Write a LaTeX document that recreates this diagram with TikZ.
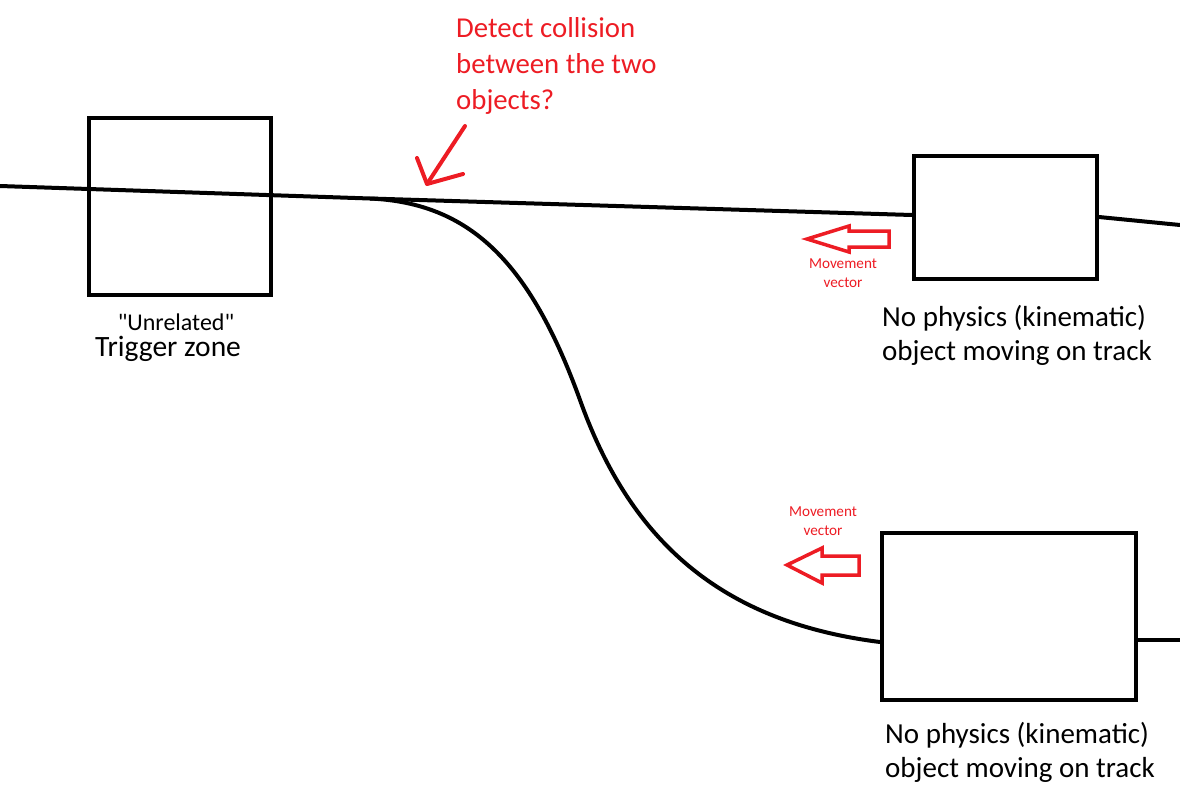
\documentclass[tikz,border=0pt]{standalone}
\usepackage{fontspec}
\setmainfont{Carlito}
\definecolor{pred}{RGB}{237,28,36}
\begin{document}
\begin{tikzpicture}[x=1pt,y=-1pt,
  box/.style={draw=black,line width=4pt,inner sep=0pt,minimum width=#1},
  track/.style={draw=black,line width=4pt},
  redline/.style={draw=pred,line width=4pt,line cap=round,line join=round},
  blockarrow/.style={draw=pred,line width=3.5pt,line join=miter},
  lbl/.style={inner sep=0pt,anchor=west,align=left,font=\fontsize{29}{34}\selectfont},
  small/.style={inner sep=0pt,align=center,text=pred,font=\fontsize{15.2}{19}\selectfont}]
\useasboundingbox (0,0) rectangle (1180,806);
% boxes
\node[box=182pt,minimum height=177pt] (trig) at (180,206.5) {};
\node[box=183pt,minimum height=123pt] (obj1) at (1005.5,217.5) {};
\node[box=254pt,minimum height=167pt] (obj2) at (1009,616.5) {};
% track coordinates
\coordinate (l0) at (0,186);
\coordinate (j) at (370,198.5);
\coordinate (o1w) at (obj1.west |- 0,215);
\coordinate (o1e) at (obj1.east |- 0,217);
\coordinate (r1) at (1180,225);
\coordinate (o2w) at (obj2.west |- 0,642);
\coordinate (o2e) at (obj2.east |- 0,640);
\coordinate (r2) at (1180,640);
\draw[track] (l0) -- (j) -- (o1w);
\draw[track] (o1e) -- (r1);
\draw[track] (j) .. controls (470,203) and (530,262) .. (580,400)
  .. controls (630,540) and (720,622) .. (o2w);
\draw[track] (o2e) -- (r2);
% red pointer
\coordinate (ptail) at (465,126);
\coordinate (ptip) at (427,184);
\draw[redline] (ptail) -- (ptip);
\draw[redline] (417,158) -- (ptip) -- (463,174);
\node[lbl,text=pred,font=\fontsize{28.8}{36}\selectfont] (q) at (456,66) {Detect collision\\between the two\\objects?};
% movement arrows
\draw[blockarrow] (807,239) -- (849,226) -- (849,231) -- (889,231) -- (889,247) -- (849,247) -- (849,252) -- cycle;
\node[small] (mv1) at (843,273) {Movement\\vector};
\draw[blockarrow] (787,565) -- (822,548) -- (822,556) -- (859,556) -- (859,575) -- (822,575) -- (822,583) -- cycle;
\node[small] (mv2) at (823,521) {Movement\\vector};
% labels
\node[inner sep=0pt,font=\fontsize{24}{28}\selectfont] (unrel) at (176,322) {\textquotedbl Unrelated\textquotedbl};
\node[inner sep=0pt,font=\fontsize{29.5}{34}\selectfont] (tz) at (168,349) {Trigger zone};
\node[lbl] (t1) at (882,335) {No physics (kinematic)\\object moving on track};
\node[lbl] (t2) at (885,752) {No physics (kinematic)\\object moving on track};
\end{tikzpicture}
\end{document}
